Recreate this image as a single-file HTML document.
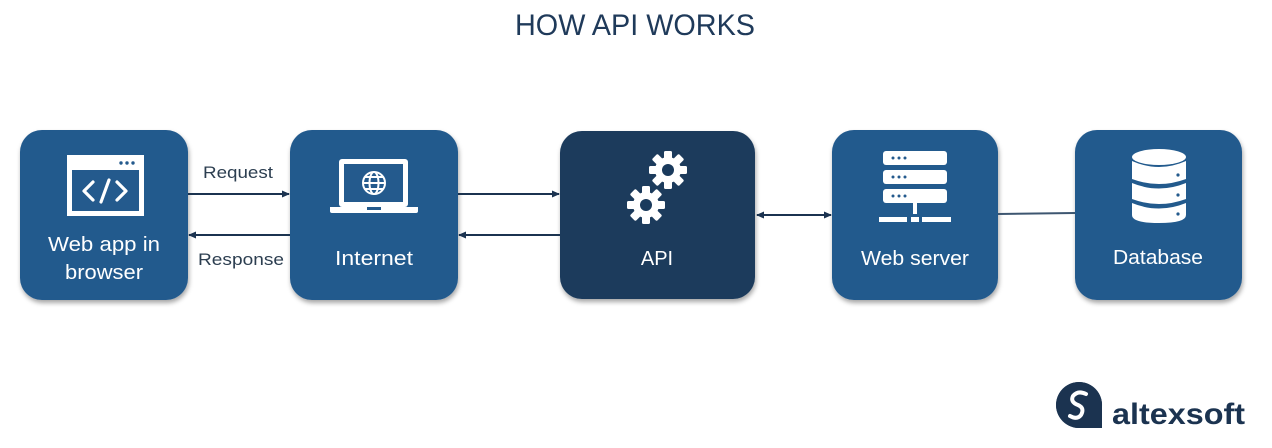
<!DOCTYPE html>
<html><head><meta charset="utf-8"><style>
html,body{margin:0;padding:0;background:#fff;width:1272px;height:448px;overflow:hidden}
text{font-family:"Liberation Sans",sans-serif}
</style></head><body>
<svg width="1272" height="448" viewBox="0 0 1272 448" xmlns="http://www.w3.org/2000/svg">
<defs>
<filter id="sh" x="-10%" y="-10%" width="130%" height="130%"><feDropShadow dx="1" dy="3" stdDeviation="2.5" flood-color="#000" flood-opacity="0.35"/></filter>
<marker id="ar" markerWidth="8" markerHeight="8" refX="7" refY="4" orient="auto" markerUnits="userSpaceOnUse"><path d="M0,0.5 L8,4 L0,7.5 z" fill="#1b3350"/></marker>
<marker id="al" markerWidth="8" markerHeight="8" refX="1" refY="4" orient="auto" markerUnits="userSpaceOnUse"><path d="M8,0.5 L0,4 L8,7.5 z" fill="#1b3350"/></marker>
<g id="gear">
<circle r="13" fill="#fff"/>
<g fill="#fff">
<rect x="-4" y="-19" width="8" height="38" rx="1.5"/>
<rect x="-4" y="-19" width="8" height="38" rx="1.5" transform="rotate(45)"/>
<rect x="-4" y="-19" width="8" height="38" rx="1.5" transform="rotate(90)"/>
<rect x="-4" y="-19" width="8" height="38" rx="1.5" transform="rotate(135)"/>
</g>
<circle r="6" fill="#1a3a5c"/>
</g>
</defs>

<text x="635" y="35" text-anchor="middle" font-size="30" fill="#1f3a5a" textLength="240" lengthAdjust="spacingAndGlyphs">HOW API WORKS</text>

<g filter="url(#sh)">
<rect x="20" y="130" width="168" height="170" rx="22" fill="#245a8d"/>
<rect x="290" y="130" width="168" height="170" rx="22" fill="#245a8d"/>
<rect x="560" y="131" width="195" height="168" rx="22" fill="#1a3a5c"/>
<rect x="832" y="130" width="166" height="170" rx="22" fill="#245a8d"/>
<rect x="1075" y="130" width="167" height="170" rx="22" fill="#245a8d"/>
</g>

<line x1="188" y1="194" x2="289" y2="194" stroke="#1b3350" stroke-width="2" marker-end="url(#ar)"/>
<line x1="290" y1="235" x2="189" y2="235" stroke="#1b3350" stroke-width="2" marker-end="url(#ar)"/>
<line x1="458" y1="194" x2="559" y2="194" stroke="#1b3350" stroke-width="2" marker-end="url(#ar)"/>
<line x1="560" y1="235" x2="459" y2="235" stroke="#1b3350" stroke-width="2" marker-end="url(#ar)"/>
<line x1="757" y1="215" x2="831" y2="215" stroke="#1b3350" stroke-width="2" marker-start="url(#al)" marker-end="url(#ar)"/>
<line x1="998" y1="214" x2="1075" y2="213" stroke="#3d5670" stroke-width="2"/>

<text x="203" y="178" font-size="17" fill="#2c3e50" textLength="70" lengthAdjust="spacingAndGlyphs">Request</text>
<text x="198" y="265" font-size="17" fill="#2c3e50" textLength="86" lengthAdjust="spacingAndGlyphs">Response</text>

<rect x="67" y="155" width="77" height="61" fill="#fff"/>
<rect x="72" y="170" width="67" height="41" fill="#245a8d"/>
<circle cx="121" cy="163" r="1.7" fill="#245a8d"/><circle cx="127" cy="163" r="1.7" fill="#245a8d"/><circle cx="133" cy="163" r="1.7" fill="#245a8d"/>
<path d="M93,182 L84,191 L93,200 M117,182 L126,191 L117,200 M109,180 L101,202" stroke="#fff" stroke-width="3.2" fill="none" stroke-linecap="round" stroke-linejoin="round"/>
<text x="104" y="251" text-anchor="middle" font-size="20" fill="#fff" textLength="112" lengthAdjust="spacingAndGlyphs">Web app in</text>
<text x="104" y="279" text-anchor="middle" font-size="20" fill="#fff" textLength="78" lengthAdjust="spacingAndGlyphs">browser</text>

<rect x="339" y="159" width="69" height="48" rx="3" fill="#fff"/>
<rect x="344" y="164" width="59" height="38" fill="#245a8d"/>
<path d="M330,207 H418 V211 Q418,213 416,213 H332 Q330,213 330,211 Z" fill="#fff"/>
<rect x="367" y="207" width="14" height="3" fill="#245a8d"/>
<g stroke="#fff" stroke-width="2" fill="none">
<circle cx="374" cy="183" r="11"/>
<ellipse cx="374" cy="183" rx="4.5" ry="11"/>
<line x1="363" y1="183" x2="385" y2="183"/>
<line x1="365" y1="177" x2="383" y2="177"/>
<line x1="365" y1="189" x2="383" y2="189"/>
</g>
<text x="374" y="265" text-anchor="middle" font-size="20" fill="#fff" textLength="78" lengthAdjust="spacingAndGlyphs">Internet</text>

<use href="#gear" x="668" y="170"/>
<use href="#gear" x="646" y="205"/>
<text x="657" y="265" text-anchor="middle" font-size="20" fill="#fff">API</text>

<g fill="#fff">
<rect x="883" y="151" width="64" height="14" rx="3"/>
<rect x="883" y="170" width="64" height="14" rx="3"/>
<rect x="883" y="189" width="64" height="14" rx="3"/>
<rect x="913" y="203" width="4" height="11"/>
<rect x="879" y="217" width="28" height="5"/>
<rect x="911" y="217" width="8" height="5"/>
<rect x="922" y="217" width="29" height="5"/>
</g>
<g fill="#245a8d">
<circle cx="893" cy="158" r="1.5"/><circle cx="899" cy="158" r="1.5"/><circle cx="905" cy="158" r="1.5"/>
<circle cx="893" cy="177" r="1.5"/><circle cx="899" cy="177" r="1.5"/><circle cx="905" cy="177" r="1.5"/>
<circle cx="893" cy="196" r="1.5"/><circle cx="899" cy="196" r="1.5"/><circle cx="905" cy="196" r="1.5"/>
</g>
<text x="915" y="265" text-anchor="middle" font-size="20" fill="#fff" textLength="108" lengthAdjust="spacingAndGlyphs">Web server</text>

<g fill="#fff">
<ellipse cx="1159" cy="157" rx="27" ry="8"/>
<path d="M1132,161 Q1159,173 1186,161 V179 Q1159,189 1132,179 Z"/>
<path d="M1132,183 Q1159,194 1186,183 V199 Q1159,209 1132,199 Z"/>
<path d="M1132,203 Q1159,214 1186,203 V215 Q1186,223 1159,223 Q1132,223 1132,215 Z"/>
</g>
<g fill="#245a8d"><circle cx="1178" cy="175" r="1.6"/><circle cx="1178" cy="195" r="1.6"/><circle cx="1178" cy="214" r="1.6"/></g>
<text x="1158" y="264" text-anchor="middle" font-size="20" fill="#fff" textLength="90" lengthAdjust="spacingAndGlyphs">Database</text>

<path d="M1079,382 a23,23 0 1 0 0.1,0 Z" fill="#1b3350"/>
<path d="M1079,382 a23,23 0 0 1 23,23 V428 H1079 a23,23 0 0 1 0,-46 Z" fill="#1b3350"/>
<path d="M1086,394 Q1078,390 1073,396 Q1070,402 1078,405 Q1085,408 1081,415 Q1077,420 1070,416" stroke="#fff" stroke-width="4" fill="none" stroke-linecap="round"/>
<text x="1112" y="424" font-size="30" font-weight="bold" fill="#1b3350" textLength="133" lengthAdjust="spacingAndGlyphs">altexsoft</text>
</svg>
</body></html>
